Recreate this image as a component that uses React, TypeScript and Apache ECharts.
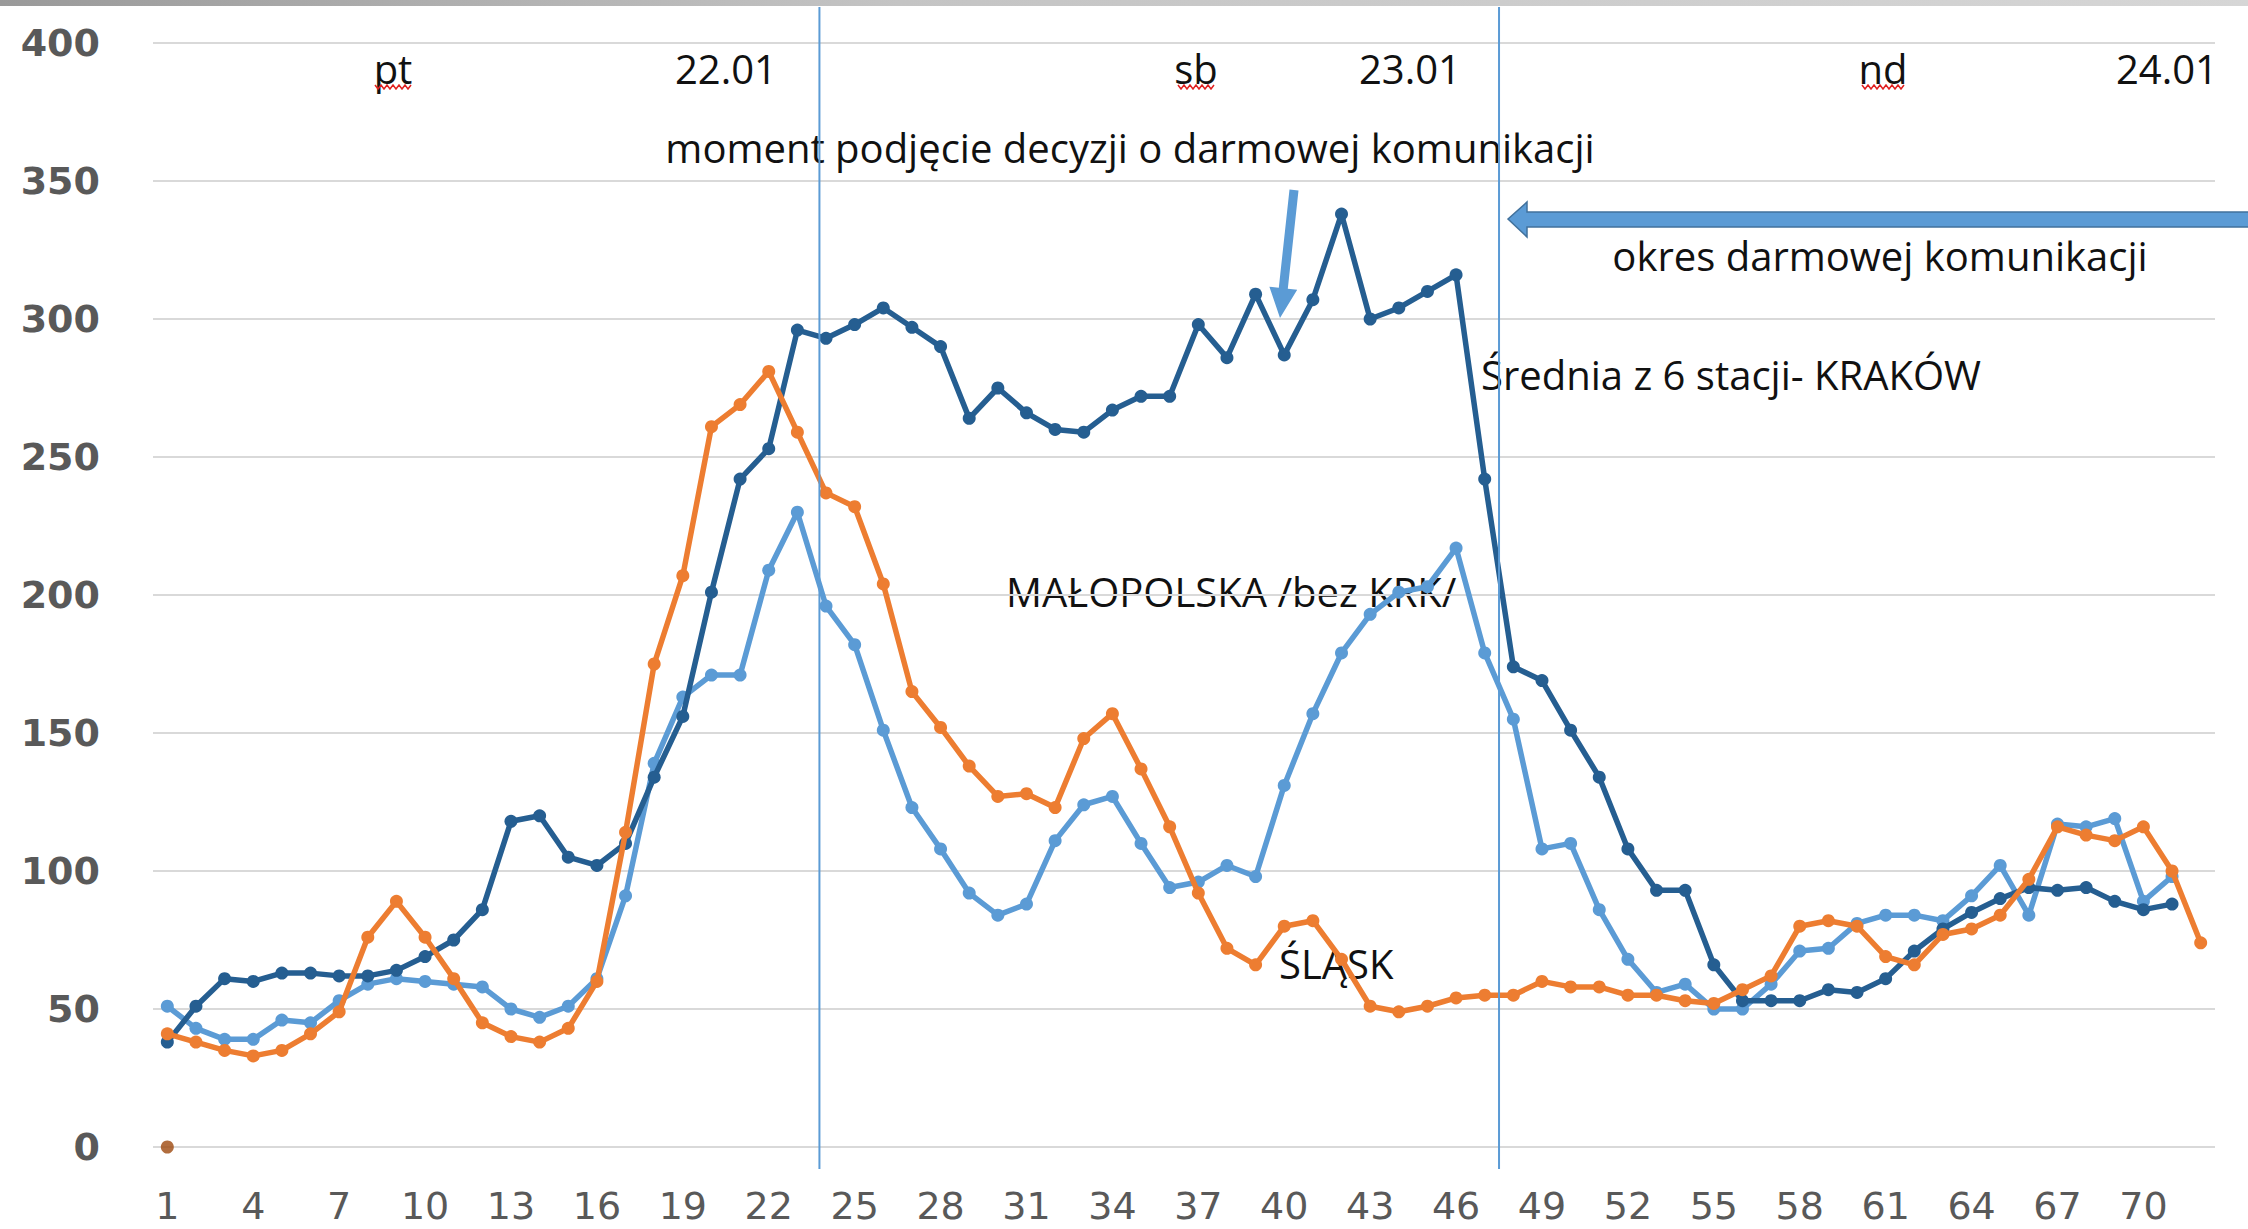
import React, { useEffect, useRef } from "react";
import * as echarts from "echarts";

// ---- data ----
const categories = Array.from({ length: 72 }, (_, i) => String(i + 1));

const krakow = [
  38, 51, 61, 60, 63, 63, 62, 62, 64, 69,
  75, 86, 118, 120, 105, 102, 110, 134, 156, 201,
  242, 253, 296, 293, 298, 304, 297, 290, 264, 275,
  266, 260, 259, 267, 272, 272, 298, 286, 309, 287,
  307, 338, 300, 304, 310, 316, 242, 174, 169, 151,
  134, 108, 93, 93, 66, 53, 53, 53, 57, 56,
  61, 71, 79, 85, 90, 94, 93, 94, 89, 86, 88,
];

const malopolska = [
  51, 43, 39, 39, 46, 45, 53, 59, 61, 60,
  59, 58, 50, 47, 51, 61, 91, 139, 163, 171,
  171, 209, 230, 196, 182, 151, 123, 108, 92, 84,
  88, 111, 124, 127, 110, 94, 96, 102, 98, 131,
  157, 179, 193, 201, 203, 217, 179, 155, 108, 110,
  86, 68, 56, 59, 50, 50, 59, 71, 72, 81,
  84, 84, 82, 91, 102, 84, 117, 116, 119, 89, 98,
];

const slask = [
  41, 38, 35, 33, 35, 41, 49, 76, 89, 76,
  61, 45, 40, 38, 43, 60, 114, 175, 207, 261,
  269, 281, 259, 237, 232, 204, 165, 152, 138, 127,
  128, 123, 148, 157, 137, 116, 92, 72, 66, 80,
  82, 68, 51, 49, 51, 54, 55, 55, 60, 58,
  58, 55, 55, 53, 52, 57, 62, 80, 82, 80,
  69, 66, 77, 79, 84, 97, 116, 113, 111, 116, 100, 74,
];

const extraPoint = [[0, 0]]; // brown dot at category 1, value 0

const eventLinesX = [23.77, 47.5]; // decision moment, start of free transport
const eventLineYRange = [-8, 413];

const dayLabels = ["pt", "sb", "nd"];
const dateLabels = ["22.01", "23.01", "24.01"];

const C_DARK = "#255E91";
const C_LIGHT = "#5B9BD5";
const C_ORANGE = "#ED7D31";
const TXT = "#111111";
const FONT = "Open Sans";

function squiggle(x0: number, x1: number, y: number) {
  const pts: number[][] = [];
  let up = true;
  for (let x = x0; x <= x1; x += 3) {
    pts.push([x, up ? y - 2 : y + 2]);
    up = !up;
  }
  return {
    type: "polyline",
    shape: { points: pts },
    style: { stroke: "#e02020", lineWidth: 1.5, fill: null },
    silent: true,
  };
}

function label(text: string, x: number, y: number, align: string = "center") {
  return {
    type: "text",
    x,
    y,
    style: {
      text,
      fontSize: 40,
      fontFamily: FONT,
      fill: TXT,
      align,
      verticalAlign: "middle",
    },
    silent: true,
  };
}

export default function App() {
  const ref = useRef<HTMLDivElement>(null);

  useEffect(() => {
    if (!ref.current) return;
    const chart = echarts.init(ref.current, null, { renderer: "svg" });

    const lineSeries = (name: string, data: number[], color: string, z: number) => ({
      name,
      type: "line",
      xAxisIndex: 0,
      data,
      z,
      symbol: "circle",
      symbolSize: 13,
      showSymbol: true,
      lineStyle: { color, width: 5.5 },
      itemStyle: { color },
      silent: true,
    });

    const vlines = eventLinesX.map((x) => ({
      type: "line",
      xAxisIndex: 1,
      data: eventLineYRange.map((y) => [x, y]),
      symbol: "none",
      clip: false,
      silent: true,
      z: 5,
      lineStyle: { color: C_LIGHT, width: 2 },
    }));

    const bigArrow = {
      type: "polygon",
      shape: {
        points: [
          [1508, 219],
          [1527, 202],
          [1527, 212],
          [2260, 212],
          [2260, 227],
          [1527, 227],
          [1527, 237],
        ],
      },
      style: { fill: C_LIGHT, stroke: "#41719C", lineWidth: 1.5 },
      silent: true,
    };

    const smallArrow = {
      type: "polygon",
      shape: {
        points: [
          [1289.5, 189.5],
          [1298.5, 190.5],
          [1287.8, 288.7],
          [1297.2, 289.7],
          [1280, 318],
          [1269.4, 286.7],
          [1278.8, 287.7],
        ],
      },
      style: { fill: C_LIGHT },
      silent: true,
    };

    const topBar = {
      type: "rect",
      shape: { x: 0, y: 0, width: 2248, height: 6 },
      style: {
        fill: new echarts.graphic.LinearGradient(0, 0, 1, 0, [
          { offset: 0, color: "#9a9a9a" },
          { offset: 0.4, color: "#c4c4c4" },
          { offset: 1, color: "#d6d6d6" },
        ]),
      },
      silent: true,
    };

    chart.setOption({
      animation: false,
      backgroundColor: "#ffffff",
      grid: { left: 153, right: 33, top: 43, bottom: 82, containLabel: false },
      xAxis: [
        {
          type: "category",
          data: categories,
          boundaryGap: true,
          axisLine: { show: false },
          axisTick: { show: false },
          splitLine: { show: false },
          axisLabel: {
            interval: 2,
            color: "#595959",
            fontFamily: "DejaVu Sans",
            fontSize: 38,
            margin: 40,
          },
        },
        { type: "value", min: 0.5, max: 72.5, show: false },
      ],
      yAxis: {
        type: "value",
        min: 0,
        max: 400,
        interval: 50,
        axisLine: { show: false },
        axisTick: { show: false },
        axisLabel: {
          color: "#595959",
          fontFamily: "DejaVu Sans",
          fontWeight: "bold",
          fontSize: 38,
          margin: 53,
        },
        splitLine: { lineStyle: { color: "#d9d9d9", width: 2 } },
      },
      series: [
        lineSeries("Średnia z 6 stacji- KRAKÓW", krakow, C_DARK, 3),
        lineSeries("MAŁOPOLSKA /bez KRK/", malopolska, C_LIGHT, 2),
        lineSeries("ŚLĄSK", slask, C_ORANGE, 4),
        {
          type: "scatter",
          xAxisIndex: 0,
          data: extraPoint,
          symbolSize: 13,
          itemStyle: { color: "#9E480E" },
          silent: true,
        },
        ...vlines,
      ],
      graphic: {
        elements: [
          topBar,
          label(dayLabels[0], 393, 68),
          squiggle(375, 411, 87),
          label(dateLabels[0], 726, 68),
          label(dayLabels[1], 1196, 68),
          squiggle(1178, 1216, 87),
          label(dateLabels[1], 1410, 68),
          label(dayLabels[2], 1883, 68),
          squiggle(1862, 1906, 87),
          label(dateLabels[2], 2167, 68),
          label("moment podjęcie decyzji o darmowej komunikacji", 1130, 147),
          smallArrow,
          bigArrow,
          label("okres darmowej komunikacji", 1880, 255),
          label("Średnia z 6 stacji- KRAKÓW", 1481, 374, "left"),
          label("MAŁOPOLSKA /bez KRK/", 1006, 591, "left"),
          label("ŚLĄSK", 1279, 963, "left"),
        ],
      },
    });

    return () => chart.dispose();
  }, []);

  return (
    <div
      ref={ref}
      style={{
        position: "fixed",
        left: 0,
        top: 0,
        width: 2248,
        height: 1229,
        background: "#ffffff",
      }}
    />
  );
}
